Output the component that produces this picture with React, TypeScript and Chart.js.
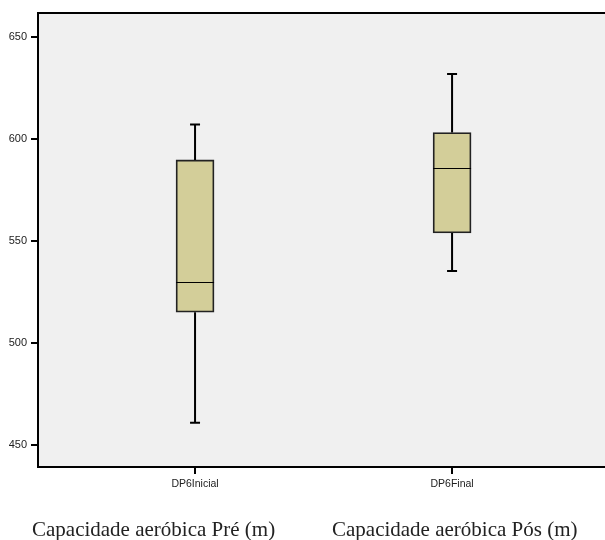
import React, { useEffect, useRef } from "react";
import { Chart, registerables } from "chart.js";

Chart.register(...registerables);

const categories = ["DP6Inicial", "DP6Final"];
const axisTitles = ["Capacidade aeróbica Pré (m)", "Capacidade aeróbica Pós (m)"];
const mins = [460.8, 535.2];
const q1s = [515.0, 553.8];
const medians = [529.8, 585.6];
const q3s = [589.6, 603.0];
const maxs = [606.9, 631.7];
const yTicks = [450, 500, 550, 600, 650];

export default function App() {
  const ref = useRef<HTMLCanvasElement | null>(null);

  useEffect(() => {
    document.body.style.margin = "0";
    const canvas = ref.current;
    if (!canvas) return;

    const bgPlugin = {
      id: "bgPlugin",
      beforeDraw(chart: any) {
        const { ctx, chartArea } = chart;
        ctx.save();
        ctx.fillStyle = "#f0f0f0";
        ctx.fillRect(chartArea.left, chartArea.top, chartArea.right - chartArea.left, chartArea.bottom - chartArea.top);
        ctx.restore();
      },
      afterDraw(chart: any) {
        const { ctx, chartArea } = chart;
        ctx.save();
        ctx.strokeStyle = "#000";
        ctx.lineWidth = 2;
        ctx.beginPath();
        ctx.moveTo(chartArea.left - 1, chartArea.top);
        ctx.lineTo(chartArea.right, chartArea.top);
        ctx.stroke();
        ctx.fillStyle = "#222";
        ctx.font = "21px 'Liberation Serif', serif";
        ctx.textAlign = "left";
        ctx.textBaseline = "alphabetic";
        const xs = [32, 332];
        axisTitles.forEach((t, i) => ctx.fillText(t, xs[i], 536));
        ctx.restore();
      },
    };

    const whiskerPlugin = {
      id: "whiskerPlugin",
      afterDatasetsDraw(chart: any) {
        const { ctx } = chart;
        const xs = chart.scales.x;
        const ys = chart.scales.y;
        ctx.save();
        categories.forEach((_, i) => {
          const cx = xs.getPixelForValue(i);
          const half = 19;
          ctx.strokeStyle = "#000";
          ctx.lineWidth = 2;
          ctx.beginPath();
          ctx.moveTo(cx, ys.getPixelForValue(q3s[i]));
          ctx.lineTo(cx, ys.getPixelForValue(maxs[i]));
          ctx.moveTo(cx, ys.getPixelForValue(q1s[i]));
          ctx.lineTo(cx, ys.getPixelForValue(mins[i]));
          ctx.moveTo(cx - 5, ys.getPixelForValue(maxs[i]));
          ctx.lineTo(cx + 5, ys.getPixelForValue(maxs[i]));
          ctx.moveTo(cx - 5, ys.getPixelForValue(mins[i]));
          ctx.lineTo(cx + 5, ys.getPixelForValue(mins[i]));
          ctx.stroke();
          ctx.lineWidth = 1.2;
          ctx.beginPath();
          const my = Math.round(ys.getPixelForValue(medians[i])) + 0.5;
          ctx.moveTo(cx - half, my);
          ctx.lineTo(cx + half, my);
          ctx.stroke();
        });
        ctx.restore();
      },
    };

    const chart = new Chart(canvas, {
      type: "bar",
      data: {
        datasets: [
          {
            data: categories.map((_, i) => ({ x: i, y: [q1s[i], q3s[i]] })) as any,
            backgroundColor: "#d3ce99",
            borderColor: "#222",
            borderWidth: 1.8,
            borderSkipped: false,
            barThickness: 38,
          },
        ],
      },
      options: {
        animation: false,
        responsive: false,
        layout: { padding: { top: 13, left: 0, right: 0, bottom: 0 } },
        plugins: { legend: { display: false }, tooltip: { enabled: false } },
        scales: {
          x: {
            type: "linear",
            offset: false,
            min: -0.611,
            max: 1.595,
            afterFit(scale: any) {
              scale.height = 73;
            },
            afterBuildTicks(scale: any) {
              scale.ticks = categories.map((_, i) => ({ value: i }));
            },
            ticks: {
              callback: (v: any) => categories[v as number] ?? "",
              font: { family: "'Liberation Sans', Arial, sans-serif", size: 10.5 },
              color: "#222",
              padding: 4,
              maxRotation: 0,
            },
            grid: { offset: false, drawOnChartArea: false, drawTicks: true, tickLength: 7, color: "#000", lineWidth: 2 },
            border: { display: true, color: "#000", width: 2 },
          },
          y: {
            min: 439.1,
            max: 661.6,
            afterFit(scale: any) {
              scale.width = 38;
            },
            afterBuildTicks(scale: any) {
              scale.ticks = yTicks.map((v) => ({ value: v }));
            },
            ticks: {
              font: { family: "'Liberation Sans', Arial, sans-serif", size: 11 },
              color: "#222",
              padding: 4,
            },
            grid: { drawOnChartArea: false, drawTicks: true, tickLength: 7, color: "#000", lineWidth: 2 },
            border: { display: true, color: "#000", width: 2 },
          },
        },
      },
      plugins: [bgPlugin, whiskerPlugin],
    });

    return () => chart.destroy();
  }, []);

  return (
    <div style={{ width: 605, height: 540, background: "#fff" }}>
      <canvas ref={ref} width={605} height={540} />
    </div>
  );
}
